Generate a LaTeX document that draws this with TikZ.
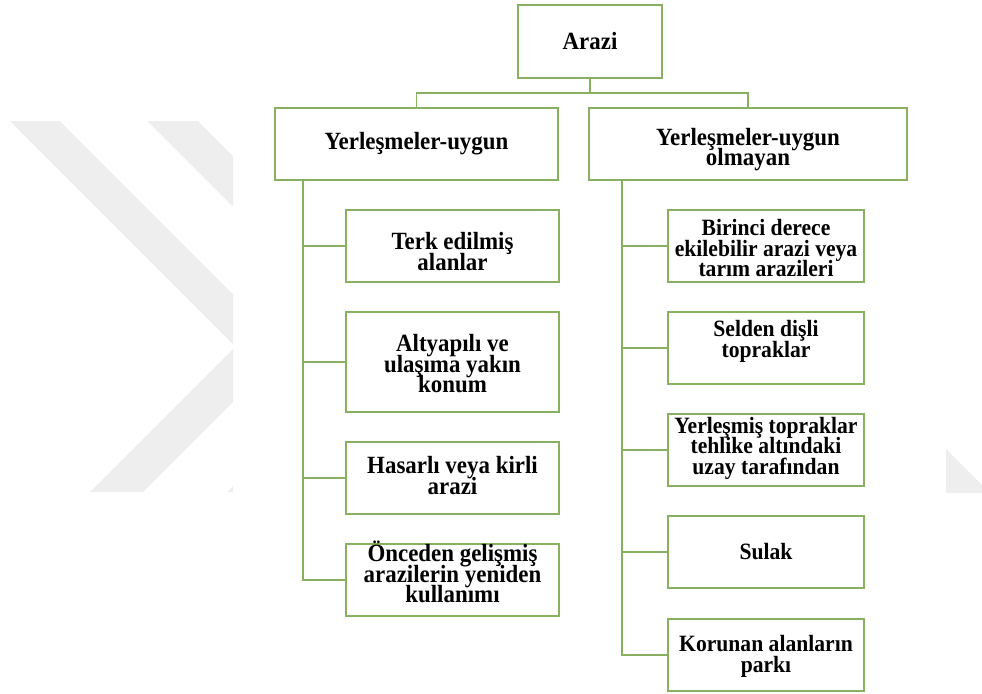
\documentclass[tikz,border=0pt]{standalone}
\usepackage{fontspec}
\setmainfont{Liberation Serif}[FakeStretch=0.925]
\usepackage{tikz}

\definecolor{boxgreen}{RGB}{137,176,96}
\definecolor{wmgray}{RGB}{238,238,238}
\newcommand{\boxfont}{\bfseries\fontsize{13.3pt}{11.8pt}\selectfont\lineskiplimit=-100pt\relax}
\newcommand{\bigboxfont}{\bfseries\fontsize{14.1pt}{11.8pt}\selectfont\lineskiplimit=-100pt\relax}

\begin{document}
\begin{tikzpicture}[x=0.02cm,y=-0.02cm]
\tikzstyle{box}=[draw=boxgreen,line width=1.1pt,fill=white,align=center,inner sep=0pt,outer sep=0pt,font=\boxfont];
\tikzstyle{bigtext}=[font=\bigboxfont];
\tikzstyle{link}=[draw=boxgreen,line width=1.1pt];
\tikzstyle{lastline}=[text height=#1,text depth=0pt];
\useasboundingbox (0,0) rectangle (982,693);
\begin{scope}
\clip (0,0) rectangle (233,693);
\fill[wmgray] (10,121) -- (60,121) -- (287,348) -- (143,492) -- (90,492) -- (235.5,346.5) -- cycle;
\fill[wmgray] (147,121) -- (198,121) -- (424,348) -- (280,492) -- (227,492) -- (372.5,346.5) -- cycle;
\end{scope}
\fill[wmgray] (946,449) -- (982,485) -- (982,493) -- (946,493) -- cycle;

\node[box,bigtext,minimum width=2.88cm,minimum height=1.46cm] (arazi) at (590,41.5) {Arazi};
\node[box,bigtext,minimum width=5.66cm,minimum height=1.44cm] (uygun) at (416.5,144) {Yerleşmeler-uygun};
\node[box,bigtext,lastline=25pt,minimum width=6.36cm,minimum height=1.44cm] (olmayan) at (748,144) {Yerleşmeler-uygun\\olmayan};

\node[box,bigtext,lastline=28pt,minimum width=4.26cm,minimum height=1.44cm] (terk) at (452.5,246) {Terk edilmiş\\alanlar};
\node[box,bigtext,lastline=35pt,minimum width=4.26cm,minimum height=2cm] (altyapi) at (452.5,362) {Altyapılı ve\\ulaşıma yakın\\konum};
\node[box,bigtext,lastline=19pt,minimum width=4.26cm,minimum height=1.44cm] (hasarli) at (452.5,478) {Hasarlı veya kirli\\arazi};
\node[box,bigtext,lastline=26pt,minimum width=4.26cm,minimum height=1.44cm] (onceden) at (452.5,580) {Önceden gelişmiş\\arazilerin yeniden\\kullanımı};

\node[box,lastline=35pt,minimum width=3.92cm,minimum height=1.44cm] (birinci) at (766,246) {Birinci derece\\ekilebilir arazi veya\\tarım arazileri};
\node[box,lastline=11pt,minimum width=3.92cm,minimum height=1.44cm] (selden) at (766,348) {Selden dişli\\topraklar};
\node[box,lastline=28pt,minimum width=3.92cm,minimum height=1.44cm] (yerlesmis) at (766,450) {Yerleşmiş topraklar\\tehlike altındaki\\uzay tarafından};
\node[box,minimum width=3.92cm,minimum height=1.44cm] (sulak) at (766,552) {Sulak};
\node[box,lastline=20pt,minimum width=3.92cm,minimum height=1.44cm] (korunan) at (766,655) {Korunan alanların\\parkı};

\coordinate (hub) at (590,93);
\coordinate (ltrunk) at (303,180);
\coordinate (rtrunk) at (622,180);
\draw[link] (arazi.south) -- (hub) -| (uygun.north);
\draw[link] (hub) -| (olmayan.north);
\draw[link] (ltrunk) |- (onceden.west);
\draw[link] (rtrunk) |- (korunan.west);
\foreach \n in {terk,altyapi,hasarli}
  \draw[link] (\n.west) -- (\n.west -| ltrunk);
\foreach \n in {birinci,selden,yerlesmis,sulak}
  \draw[link] (\n.west) -- (\n.west -| rtrunk);
\end{tikzpicture}
\end{document}
